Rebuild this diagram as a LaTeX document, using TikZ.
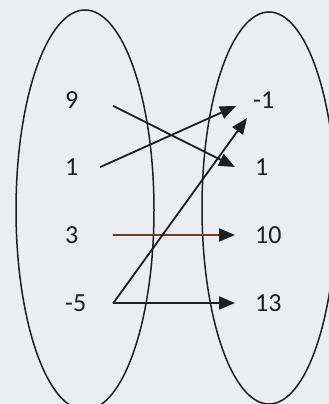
\documentclass[tikz,border=0pt]{standalone}
\usepackage{fontspec}
\setmainfont{Carlito}
\usetikzlibrary{arrows.meta}
\definecolor{paper}{RGB}{236,237,240}
\definecolor{ink}{RGB}{30,30,30}
\definecolor{inkbrown}{RGB}{100,65,45}
\begin{document}
\begin{tikzpicture}[x=1pt,y=1pt,line cap=round,line join=round,
  >={Triangle[length=16pt,width=13pt]},
  num/.style={inner sep=0pt,font=\fontsize{26}{30}\selectfont,text=ink},
  dom/.style={num,anchor=west,text width=48pt,align=left},
  cod/.style={num,anchor=west},
  set/.style={line width=1.5pt,draw=ink},
  map/.style={line width=1.8pt,draw=ink,->}]
  \clip (0,0) rectangle (329,404);
  \fill[paper] (0,0) rectangle (329,404);
  \draw[set] (85,194) ellipse [x radius=69pt,y radius=200pt];
  \draw[set] (269,196) ellipse [x radius=67pt,y radius=196pt];
  % domain
  \node[dom] (l9) at (65,304) {9};
  \node[dom] (l1) at (65,237) {1};
  \node[dom] (l3) at (65,169) {3};
  \node[dom] (lm5) at (65,101) {-5};
  % codomain
  \node[cod] (rm1) at (253,304) {-1};
  \node[cod] (r1) at (255,237) {1};
  \node[cod] (r10) at (255,169) {10};
  \node[cod] (r13) at (255,101) {13};
  % mapping
  \draw[map] ([yshift=-6pt]l9.east) -- ([xshift=-20pt]r1.west);
  \draw[map] ([xshift=-13pt]l1.east) -- ([xshift=-17pt,yshift=-6pt]rm1.west);
  \draw[map,draw=inkbrown,>={Triangle[length=16pt,width=13pt,color=ink]}] (l3.east) -- ([xshift=-20pt]r10.west);
  \draw[map] (lm5.east) -- ([xshift=-20pt]r13.west);
  \draw[map] (lm5.east) -- ([xshift=-6pt,yshift=-18pt]rm1.west);
\end{tikzpicture}
\end{document}
